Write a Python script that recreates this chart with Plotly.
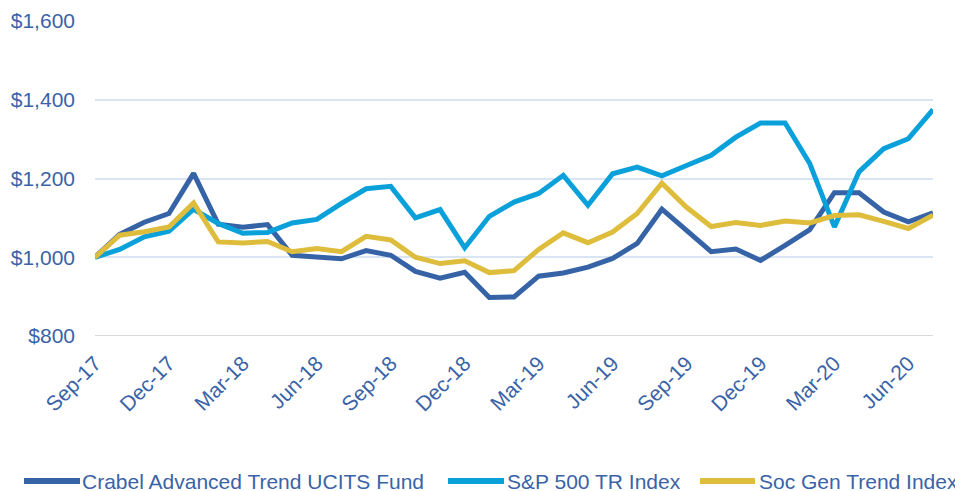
import plotly.graph_objects as go

months = ["Sep-17","Oct-17","Nov-17","Dec-17","Jan-18","Feb-18","Mar-18","Apr-18","May-18","Jun-18",
          "Jul-18","Aug-18","Sep-18","Oct-18","Nov-18","Dec-18","Jan-19","Feb-19","Mar-19","Apr-19",
          "May-19","Jun-19","Jul-19","Aug-19","Sep-19","Oct-19","Nov-19","Dec-19","Jan-20","Feb-20",
          "Mar-20","Apr-20","May-20","Jun-20","Jul-20"]

crabel = [1000,1058,1089,1111,1213,1084,1076,1083,1005,1002,
          996,1017,1005,964,947,962,898,899,952,960,
          975,997,1035,1122,1069,1014,1021,992,1030,1070,
          1164,1164,1115,1090,1113]

sp500 = [1000,1020,1052,1066,1122,1086,1061,1063,1087,1096,
         1137,1174,1180,1100,1121,1024,1104,1140,1162,1208,
         1132,1212,1229,1207,1233,1259,1305,1341,1341,1238,
         1077,1217,1276,1301,1375]

socgen = [1000,1056,1065,1077,1138,1039,1036,1040,1014,1022,
          1014,1053,1044,1000,984,991,961,966,1020,1062,
          1037,1064,1111,1188,1127,1078,1088,1081,1092,1087,
          1106,1108,1091,1073,1107]

tick_idx = list(range(0, len(months), 3))
tick_text = [months[i] for i in tick_idx]
y_ticks = [800, 1000, 1200, 1400, 1600]
y_text = ["$800", "$1,000", "$1,200", "$1,400", "$1,600"]

names = ["Crabel Advanced Trend UCITS Fund", "S&P 500 TR Index", "Soc Gen Trend Index"]
colors = ["#3563A6", "#0AA1DB", "#DDBD3B"]
series = [crabel, sp500, socgen]

# page body has an 8px margin; work in figure pixels = window pixels - 8
OFF = 8
W, H = 963 - OFF, 491 - OFF
L, T = 95 - OFF, 21 - OFF
R = W - (933 - OFF)
B = H - (336 - OFF)
pw, ph = W - L - R, H - T - B

def px2paper_x(px):
    return (px - OFF - L) / pw

def px2paper_y(py):
    return (H - B - (py - OFF)) / ph

x = list(range(len(months)))
fig = go.Figure()
for k in range(3):
    fig.add_trace(go.Scatter(x=x, y=series[k], mode="lines", name=names[k],
                             line=dict(color=colors[k], width=5), showlegend=False))

text_color = "#3A63A7"
font_family = "Liberation Sans, Arial"

# manual legend (window-pixel layout of the reference)
legend_items = [(24, 80, 83), (448, 504, 508), (700, 755, 760)]
ly = 481.0
for (x0, x1, tx), name, col in zip(legend_items, names, colors):
    fig.add_shape(type="line", xref="paper", yref="paper",
                  x0=px2paper_x(x0), x1=px2paper_x(x1),
                  y0=px2paper_y(ly), y1=px2paper_y(ly),
                  line=dict(color=col, width=6))
    fig.add_annotation(xref="paper", yref="paper", x=px2paper_x(tx), y=px2paper_y(ly),
                       text=name, showarrow=False, xanchor="left", yanchor="middle",
                       xshift=-2, height=18, valign="middle", borderpad=0,
                       font=dict(family=font_family, size=21, color=text_color))

fig.update_layout(
    width=W, height=H,
    margin=dict(l=L, r=R, t=T, b=B),
    paper_bgcolor="white", plot_bgcolor="white",
    font=dict(family=font_family, size=21, color=text_color),
    showlegend=False,
    xaxis=dict(range=[0, 34], tickmode="array", tickvals=tick_idx, ticktext=tick_text,
               tickangle=-45, showgrid=False, zeroline=False, showline=False,
               ticks="", automargin=False, ticklabelstandoff=10,
               tickfont=dict(size=21, color=text_color)),
    yaxis=dict(range=[800, 1600], tickmode="array", tickvals=y_ticks, ticktext=y_text,
               showgrid=True, gridcolor="#DAE5F3", gridwidth=1.5, zeroline=False,
               showline=False, ticks="", automargin=False, ticklabelstandoff=19,
               tickfont=dict(size=21, color=text_color)),
)
fig.add_hline(y=800, line=dict(color="#D9D9D9", width=2), layer="below")

fig.write_html("out.html")
